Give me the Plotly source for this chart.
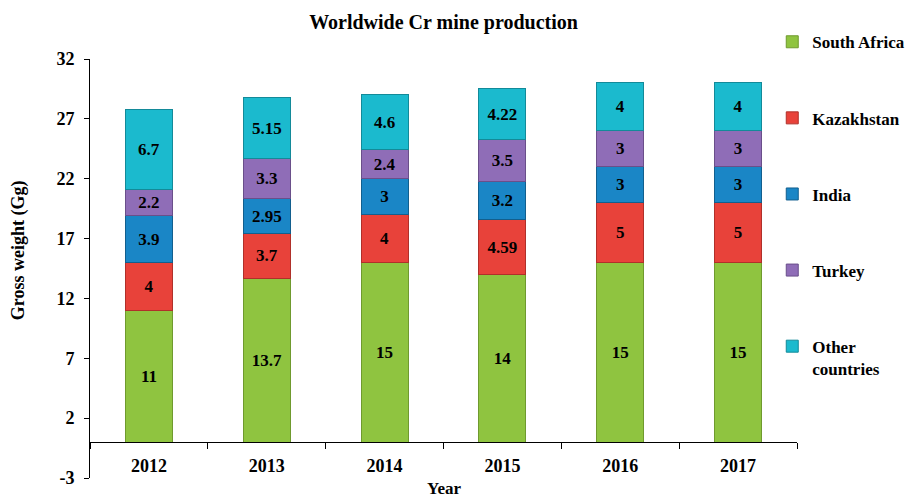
import plotly.graph_objects as go

# Gross chromium mine production by country (Gg)
years = ["2012", "2013", "2014", "2015", "2016", "2017"]
south_africa = [11, 13.7, 15, 14, 15, 15]
kazakhstan = [4, 3.7, 4, 4.59, 5, 5]
india = [3.9, 2.95, 3, 3.2, 3, 3]
turkey = [2.2, 3.3, 2.4, 3.5, 3, 3]
other = [6.7, 5.15, 4.6, 4.22, 4, 4]
y_ticks = [-3, 2, 7, 12, 17, 22, 27, 32]

series = [
    ("South Africa", south_africa, "#8fc440", "#6f9a2e"),
    ("Kazakhstan", kazakhstan, "#e8423a", "#b0302a"),
    ("India", india, "#1a86c6", "#125f8e"),
    ("Turkey", turkey, "#8f6db7", "#6a4f8a"),
    ("Other<br>countries", other, "#1bbace", "#138a99"),
]

SERIF = "Liberation Serif, Times New Roman, serif"

fig = go.Figure()
for i, (name, vals, color, edge) in enumerate(series):
    fig.add_trace(go.Bar(
        x=years, y=vals, name=name, legendgroup=f"g{i}",
        marker=dict(color=color, line=dict(color=edge, width=1)),
        width=0.4,
        texttemplate="%{y}", textposition="inside", insidetextanchor="middle",
        textangle=0, constraintext="none",
        textfont=dict(family=SERIF, size=17, color="black", weight="bold"),
        hoverinfo="x+y+name",
    ))

ymin, ymax = -3, 32
fig.update_layout(
    barmode="stack",
    width=922, height=500,
    margin=dict(l=90, r=123, t=59, b=22),
    paper_bgcolor="white", plot_bgcolor="white",
    font=dict(family=SERIF, color="black", weight="bold"),
    title=dict(text="Worldwide Cr mine production", x=0.5, xref="paper",
               y=1 - 22 / 500, yanchor="middle",
               font=dict(family=SERIF, size=20, color="black", weight="bold")),
    xaxis=dict(type="category", range=[-0.5, 5.5], anchor="free",
               position=(0 - ymin) / (ymax - ymin),
               showline=True, linecolor="black", linewidth=1,
               ticks="outside", tickson="boundaries", ticklen=6, tickcolor="black",
               ticklabelstandoff=7, showgrid=False,
               tickfont=dict(family=SERIF, size=18, color="black", weight="bold")),
    yaxis=dict(range=[ymin, ymax], tickvals=y_ticks,
               ticktext=[str(v) for v in y_ticks],
               showline=True, linecolor="black", linewidth=1,
               ticks="outside", ticklen=5, tickcolor="black",
               ticklabelstandoff=6, showgrid=False, zeroline=False,
               tickfont=dict(family=SERIF, size=18, color="black", weight="bold")),
    legend=dict(x=0.965, xanchor="left", y=1.083, yanchor="top",
                traceorder="grouped", tracegroupgap=51, valign="top",
                itemwidth=30, maxheight=480, bgcolor="rgba(0,0,0,0)",
                font=dict(family=SERIF, size=17, color="black", weight="bold")),
    annotations=[
        dict(text="Year", x=0.5, xref="paper", y=-10 / 419, yref="paper",
             yanchor="middle", showarrow=False,
             font=dict(family=SERIF, size=17, color="black", weight="bold")),
        dict(text="Gross weight (Gg)", x=(18 - 90) / 709, xref="paper",
             y=(478 - 250) / 419, yref="paper", textangle=-90,
             xanchor="center", yanchor="middle", showarrow=False,
             font=dict(family=SERIF, size=18, color="black", weight="bold")),
    ],
)

fig.write_html("out.html")
